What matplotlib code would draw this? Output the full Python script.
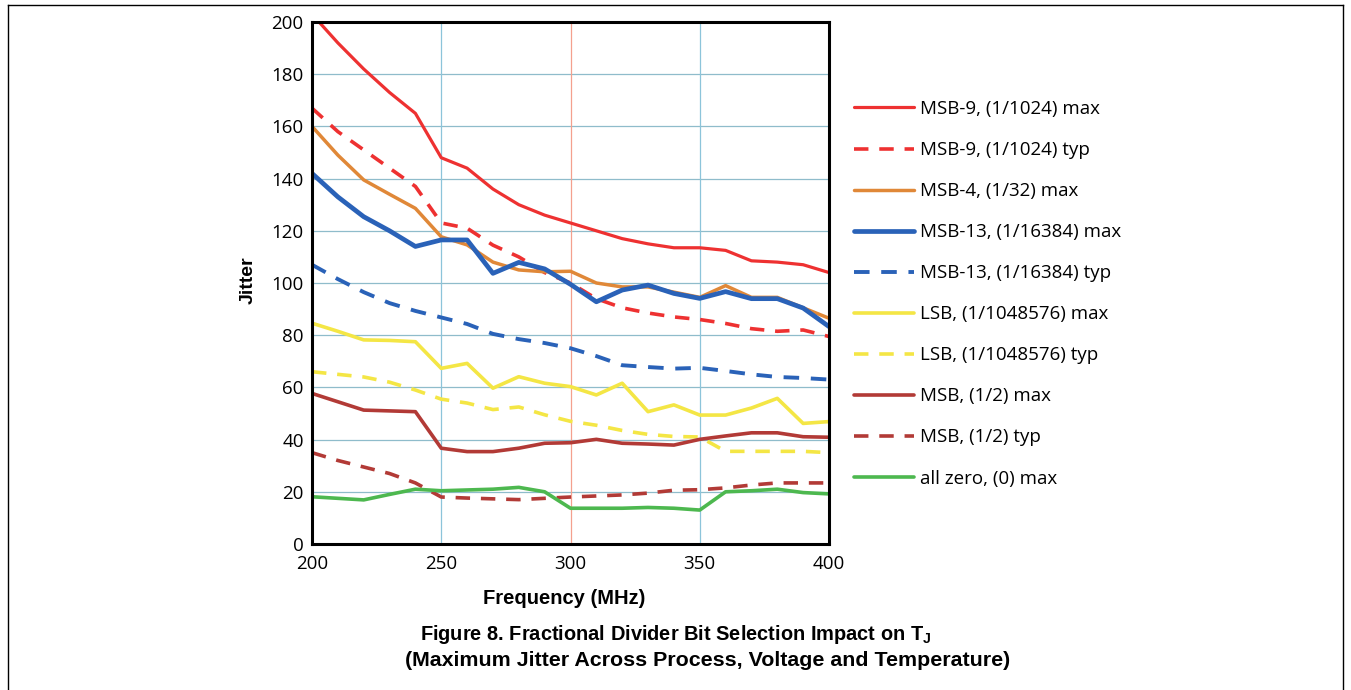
import matplotlib
matplotlib.use("Agg")
import matplotlib.pyplot as plt
from matplotlib.lines import Line2D

freq = [200, 210, 220, 230, 240, 250, 260, 270, 280, 290, 300,
        310, 320, 330, 340, 350, 360, 370, 380, 390, 400]

msb9_max = [203, 192, 182, 173, 165, 148, 144, 136, 130, 126, 123,
            120, 117, 115, 113.5, 113.5, 112.5, 108.5, 108, 107, 104]
msb9_typ = [167, 158, 151, 144, 137, 123, 121, 114.5, 110, 104, 100,
            94, 90.5, 88.5, 87, 86, 84.5, 82.5, 81.5, 82, 79.5]
msb4_max = [160, 149, 139.5, 134, 128.6, 117.7, 114.6, 108, 105, 104.3, 104.5,
            100, 98.5, 98.5, 96.5, 94.5, 99, 94.5, 94.5, 90.5, 86.5]
msb13_max = [142, 133, 125.4, 120, 114, 116.5, 116.5, 103.7, 107.9, 105.4, 99.5,
             92.8, 97.3, 99.2, 96, 94.1, 96.7, 94, 94, 90.4, 83.3]
msb13_typ = [107, 101.5, 96.5, 92.3, 89.3, 86.8, 84.3, 80.5, 78.5, 77, 75,
             72, 68.5, 67.8, 67.2, 67.5, 66.3, 65, 64, 63.6, 63]
lsb_max = [84.6, 81.5, 78.2, 78, 77.5, 67.3, 69.2, 59.7, 64.1, 61.6, 60.3,
           57.1, 61.6, 50.7, 53.3, 49.4, 49.4, 52.1, 55.8, 46.2, 46.9]
lsb_typ = [66, 65, 64, 62, 59, 55.5, 54, 51.5, 52.5, 49.5, 47,
           45.5, 43.5, 42, 41.2, 41, 35.5, 35.5, 35.5, 35.5, 35]
msb_max = [57.7, 54.5, 51.3, 51, 50.7, 36.7, 35.4, 35.4, 36.7, 38.6, 38.8,
           40.1, 38.6, 38.3, 37.9, 40.1, 41.4, 42.6, 42.6, 41.1, 40.9]
msb_typ = [35, 32, 29.5, 27, 23.4, 18, 17.6, 17.3, 17, 17.5, 18,
           18.4, 18.8, 19.5, 20.6, 20.8, 21.5, 22.6, 23.4, 23.4, 23.4]
all_zero_max = [18.1, 17.5, 16.9, 19, 21, 20.4, 20.7, 21, 21.7, 20, 13.7,
                13.7, 13.7, 14, 13.7, 13, 20, 20.4, 21, 19.7, 19.2]

labels = ["MSB-9, (1/1024) max", "MSB-9, (1/1024) typ", "MSB-4, (1/32) max",
          "MSB-13, (1/16384) max", "MSB-13, (1/16384) typ", "LSB, (1/1048576) max",
          "LSB, (1/1048576) typ", "MSB, (1/2) max", "MSB, (1/2) typ", "all zero, (0) max"]
series = [msb9_max, msb9_typ, msb4_max, msb13_max, msb13_typ, lsb_max,
          lsb_typ, msb_max, msb_typ, all_zero_max]
colors = ["#ee3131", "#ee3131", "#e08838", "#2a62b8", "#2a62b8", "#f4e645",
          "#f4e645", "#b23a36", "#b23a36", "#4db84f"]
dashed = [False, True, False, False, True, False, True, False, True, False]
widths = [2.3, 2.6, 2.5, 3.4, 2.8, 2.6, 2.6, 2.6, 2.6, 2.6]

xticks = [200, 250, 300, 350, 400]
yticks = [0, 20, 40, 60, 80, 100, 120, 140, 160, 180, 200]

W, H = 1351, 690
fig = plt.figure(figsize=(W / 100, H / 100), dpi=100)
ax = fig.add_axes([312 / W, 1 - 544 / H, (829 - 312) / W, (544 - 22) / H])

tick_font = "Open Sans"

# grid
for yv in yticks[1:-1]:
    ax.axhline(yv, color="#8fbccb", lw=0.9, zorder=0.6)
ax.axvline(250, color="#8cc4da", lw=0.9, zorder=0.6)
ax.axvline(350, color="#8cc4da", lw=0.9, zorder=0.6)
ax.axvline(300, color="#f4a08e", lw=0.9, zorder=0.6)

for lab, ys, c, d, w in zip(labels, series, colors, dashed, widths):
    ln, = ax.plot(freq, ys, color=c, lw=w, label=lab, solid_capstyle="round",
                  solid_joinstyle="round", zorder=2)
    if d:
        ln.set_dashes((4.0, 3.0))
        ln.set_dash_capstyle("butt")

ax.set_xlim(200, 400)
ax.set_ylim(0, 200)
ax.set_xticks(xticks)
ax.set_yticks(yticks)
ax.tick_params(length=0, labelsize=13.5)
ax.tick_params(axis="x", pad=8)
ax.tick_params(axis="y", pad=6)
for t in ax.get_xticklabels() + ax.get_yticklabels():
    t.set_fontfamily([tick_font, "DejaVu Sans"])
for s in ax.spines.values():
    s.set_linewidth(2.2)
    s.set_color("black")
    s.set_zorder(5)

fig.text(248 / W, 1 - 280 / H, "Jitter", rotation=90, ha="center", va="center",
         fontsize=14, fontweight="bold", family=["Liberation Sans", "DejaVu Sans"])
fig.text(564 / W, 1 - 598 / H, "Frequency (MHz)", ha="center", va="center",
         fontsize=14.5, fontweight="bold", family=["Liberation Sans", "DejaVu Sans"])

leg = ax.legend(loc="upper left", bbox_to_anchor=(854 / W, 1 - 100 / H),
                bbox_transform=fig.transFigure, frameon=False,
                prop={"family": [tick_font, "DejaVu Sans"], "size": 13.5},
                handlelength=3.2, handletextpad=0.3, labelspacing=1.23,
                borderaxespad=0, borderpad=0)

cap_fam = ["Liberation Sans", "DejaVu Sans"]
fig.text(676 / W, 1 - 635 / H,
         r"Figure 8. Fractional Divider Bit Selection Impact on T$_\mathregular{J}$",
         ha="center", va="center", fontsize=14.4, fontweight="bold", family=cap_fam)
fig.text(708 / W, 1 - 661 / H,
         "(Maximum Jitter Across Process, Voltage and Temperature)",
         ha="center", va="center", fontsize=15.4, fontweight="bold", family=cap_fam)

# page border
bx0, bx1, by0 = 8 / W, 1343 / W, 1 - 5 / H
fig.add_artist(Line2D([bx0, bx0], [0, by0], color="black", lw=1.0, transform=fig.transFigure))
fig.add_artist(Line2D([bx1, bx1], [0, by0], color="black", lw=1.0, transform=fig.transFigure))
fig.add_artist(Line2D([bx0, bx1], [by0, by0], color="black", lw=1.0, transform=fig.transFigure))

fig.savefig("out.png", dpi=100)
